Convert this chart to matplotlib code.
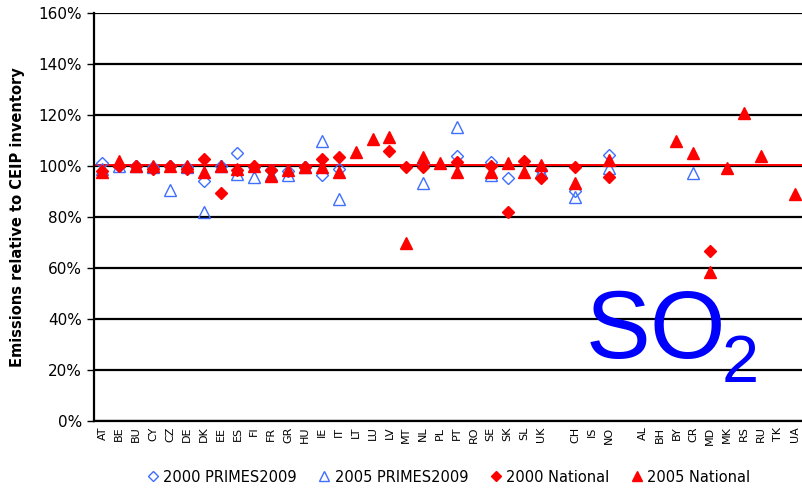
import numpy as np
import matplotlib
matplotlib.use("Agg")
import matplotlib.pyplot as plt
from matplotlib.ticker import PercentFormatter

nan = np.nan

# Countries (blank entries are gaps on the category axis)
countries = ["AT", "BE", "BU", "CY", "CZ", "DE", "DK", "EE", "ES", "FI",
             "FR", "GR", "HU", "IE", "IT", "LT", "LU", "LV", "MT", "NL",
             "PL", "PT", "RO", "SE", "SK", "SL", "UK", "", "CH", "IS",
             "NO", "", "AL", "BH", "BY", "CR", "MD", "MK", "RS", "RU",
             "TK", "UA"]

# Emissions relative to CEIP inventory (%)
primes_2000 = [101, 100, 100, 99.5, 100, 99.5, 94, 100, 105, 99.5,
               98.5, 98, 99.5, 96.5, 98.8, nan, nan, nan, nan, 101,
               nan, 103.9, nan, 101.5, 95.3, nan, 98.5, nan, 90, nan,
               104.3, nan, nan, nan, nan, nan, nan, nan, nan, nan,
               nan, nan]
primes_2005 = [99, 100, 100, 99.5, 90.6, 99.5, 82, 100, 97, 95.7,
               96.5, 96.5, 99.5, 109.8, 87, nan, nan, nan, nan, 93.3,
               nan, 115.3, nan, 96.5, nan, nan, 97.5, nan, 88, nan,
               99.2, nan, nan, nan, nan, 97.3, nan, nan, nan, nan,
               nan, nan]
national_2000 = [98, 100, 100, 99, 100, 99, 102.7, 89.4, 98.5, 100,
                 98.5, nan, 99.5, 102.7, 103.5, nan, nan, 105.9, 99.6, 99.6,
                 nan, 101.6, nan, 100, 82, 102, 95.3, nan, 99.6, nan,
                 95.7, nan, nan, nan, nan, nan, 66.7, nan, nan, nan,
                 nan, nan]
national_2005 = [97.5, 102, 100, 100, 100, 100, 97.6, 100, 99, 100,
                 96.2, 98.4, 99.6, 99.8, 97.6, 105.5, 110.6, 111.4, 69.8, 103.5,
                 101.2, 97.6, nan, 97.5, 101.2, 97.6, 100.4, nan, 93.3, nan,
                 102.4, nan, nan, nan, 109.8, 105.1, 58.4, 99.2, 120.8, 104,
                 nan, 89]

blue = "#3f6fff"
red = "#ff0000"

fig = plt.figure(figsize=(8.03, 4.88), dpi=100)
ax = fig.add_axes([94 / 803, 1 - 421 / 488, 1 - 94 / 803, 408 / 488])

x = np.arange(len(countries))

ax.set_ylim(0, 160)
ax.set_xlim(-0.5, len(countries) - 0.5)
ax.set_yticks(np.arange(0, 161, 20))
ax.yaxis.set_major_formatter(PercentFormatter(100, decimals=0))
ax.yaxis.grid(True, color="black", linewidth=1.6)
ax.set_axisbelow(True)

# 100% reference line, drawn just above the black gridline
ax.axhline(100.5, color=red, linewidth=1.4, zorder=2)

ax.plot(x, primes_2000, linestyle="none", marker="D", markersize=6.5,
        markerfacecolor="none", markeredgecolor=blue, markeredgewidth=1,
        label="2000 PRIMES2009", zorder=3)
ax.plot(x, primes_2005, linestyle="none", marker="^", markersize=8.5,
        markerfacecolor="none", markeredgecolor=blue, markeredgewidth=1,
        label="2005 PRIMES2009", zorder=3)
ax.plot(x, national_2000, linestyle="none", marker="D", markersize=6.5,
        color=red, label="2000 National", zorder=4)
ax.plot(x, national_2005, linestyle="none", marker="^", markersize=9,
        color=red, label="2005 National", zorder=4)

ax.set_xticks(x)
ax.set_xticklabels(countries, rotation=90, fontsize=8)
ax.tick_params(axis="x", length=0, pad=4)
ax.tick_params(axis="y", labelsize=11, length=5, width=1, direction="out")

for side in ["top", "right"]:
    ax.spines[side].set_visible(False)
ax.spines["left"].set_linewidth(1.6)
ax.spines["bottom"].set_linewidth(1.6)

ax.set_ylabel("Emissions relative to CEIP inventory", fontsize=10.5,
              fontweight="bold", labelpad=10)

# big SO2 label
fig.text(586 / 803, 1 - 358 / 488, "SO", fontsize=70, color="#0000ff",
         family="Liberation Sans", va="baseline", ha="left")
fig.text(722 / 803, 1 - 382 / 488, "2", fontsize=48, color="#0000ff",
         family="Liberation Sans", va="baseline", ha="left")

leg = fig.legend(loc="center", bbox_to_anchor=(448 / 803, 1 - 477 / 488),
                 ncol=4, frameon=False, fontsize=10.5, handletextpad=0.2,
                 columnspacing=1.4, handlelength=1.0, markerscale=0.85)

fig.savefig("out.png", dpi=100)
